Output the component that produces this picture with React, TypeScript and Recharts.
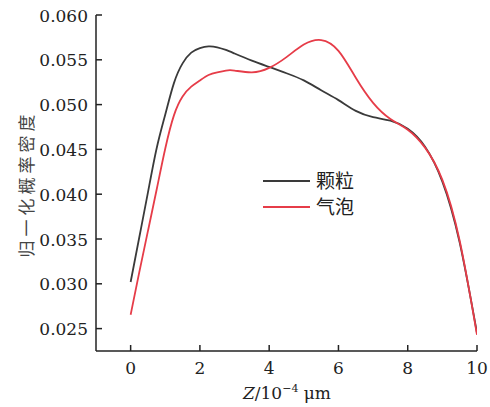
import React from "react";
import { LineChart, Line, XAxis, YAxis } from "recharts";

const zValues = [0, 0.25, 0.5, 0.75, 1.0, 1.25, 1.5, 1.75, 2.0, 2.25, 2.5, 2.75, 3.0, 3.5, 4.0, 4.5, 5.0, 5.5, 6.0, 6.5, 7.0, 7.5, 8.0, 8.5, 9.0, 9.5, 10];
const particle = [0.0302, 0.0352, 0.0402, 0.0451, 0.0489, 0.0524, 0.0546, 0.0558, 0.0563, 0.0565, 0.0564, 0.0561, 0.0557, 0.0549, 0.0542, 0.0535, 0.0527, 0.0516, 0.0505, 0.0493, 0.0486, 0.0482, 0.0473, 0.0453, 0.0414, 0.0346, 0.0245];
const bubble = [0.02655, 0.0313, 0.0359, 0.0405, 0.0451, 0.0488, 0.0509, 0.0520, 0.0527, 0.0533, 0.0536, 0.0538, 0.0538, 0.0536, 0.0541, 0.0553, 0.0567, 0.0572, 0.0560, 0.0530, 0.0502, 0.0484, 0.0472, 0.0452, 0.0416, 0.0348, 0.0243];
const xTicks = [0, 2, 4, 6, 8, 10];
const yTicks = [0.025, 0.03, 0.035, 0.04, 0.045, 0.05, 0.055, 0.06];
const seriesNames = ["颗粒", "气泡"];
const seriesColors = ["#3a3a3a", "#e63c48"];
const xLabel = "Z/10−4 μm";
const yLabel = "归一化概率密度";

const data = zValues.map((z, i) => ({ z, p: particle[i], b: bubble[i] }));

const serif = "DejaVu Serif";
const cjk = "Noto Sans CJK SC, sans-serif";
const axisColor = "#222";
const serifStyle = { fontFamily: serif };
const cjkStyle = { fontFamily: cjk };

const YTick = (props: any) => {
  const { x, y, payload } = props;
  return (
    <g>
      <line x1={x + 8} x2={x + 14} y1={y} y2={y} stroke={axisColor} strokeWidth={1.5} />
      <text x={x} y={y} dy={6.5} textAnchor="end" style={serifStyle} fontSize={17} fill="#222">
        {Number(payload.value).toFixed(3)}
      </text>
    </g>
  );
};

const XTick = (props: any) => {
  const { x, y, payload } = props;
  return (
    <g>
      <line x1={x} x2={x} y1={y} y2={y - 6} stroke={axisColor} strokeWidth={1.5} />
      <text x={x} y={y + 23} textAnchor="middle" style={serifStyle} fontSize={17} fill="#222">
        {payload.value}
      </text>
    </g>
  );
};

export default function App() {
  return (
    <div style={{ position: "absolute", left: 0, top: 0, width: 490, height: 407, background: "#fff" }}>
      <LineChart width={490} height={407} data={data} margin={{ top: 15, right: 13, left: 0, bottom: 0 }}>
        <XAxis
          dataKey="z"
          type="number"
          domain={[-1, 10]}
          ticks={xTicks}
          allowDataOverflow
          height={56}
          tickSize={0}
          tickMargin={0}
          tickLine={false}
          tick={<XTick />}
          stroke={axisColor}
          strokeWidth={1.5}
        />
        <YAxis
          type="number"
          domain={[0.0225, 0.06]}
          ticks={yTicks}
          allowDataOverflow
          width={96}
          tickSize={0}
          tickMargin={8}
          tickLine={false}
          tick={<YTick />}
          stroke={axisColor}
          strokeWidth={1.5}
        />
        <Line dataKey="p" name={seriesNames[0]} type="natural" stroke={seriesColors[0]} strokeWidth={1.8} dot={false} isAnimationActive={false} />
        <Line dataKey="b" name={seriesNames[1]} type="natural" stroke={seriesColors[1]} strokeWidth={1.8} dot={false} isAnimationActive={false} />
      </LineChart>
      <svg width={490} height={407} style={{ position: "absolute", left: 0, top: 0, pointerEvents: "none" }}>
        <text x={287} y={399} textAnchor="middle" style={serifStyle} fontSize={17} fill="#222">
          <tspan fontStyle="italic">{xLabel.slice(0, 1)}</tspan>
          <tspan>{xLabel.slice(1, 4)}</tspan>
          <tspan dy={-7} fontSize={11}>{xLabel.slice(4, 6)}</tspan>
          <tspan dy={7}>{xLabel.slice(6)}</tspan>
        </text>
        <text
          x={25}
          y={184}
          transform="rotate(-90 25 184)"
          textAnchor="middle"
          dominantBaseline="central"
          style={cjkStyle}
          fontSize={17}
          letterSpacing={4}
          fill="#444"
        >
          {yLabel}
        </text>
        {seriesNames.map((n, i) => (
          <g key={n}>
            <line x1={263} x2={310} y1={181 + i * 26} y2={181 + i * 26} stroke={seriesColors[i]} strokeWidth={2} />
            <text x={316} y={181 + i * 26} dy={7} style={cjkStyle} fontSize={19} fill="#222">
              {n}
            </text>
          </g>
        ))}
      </svg>
    </div>
  );
}
